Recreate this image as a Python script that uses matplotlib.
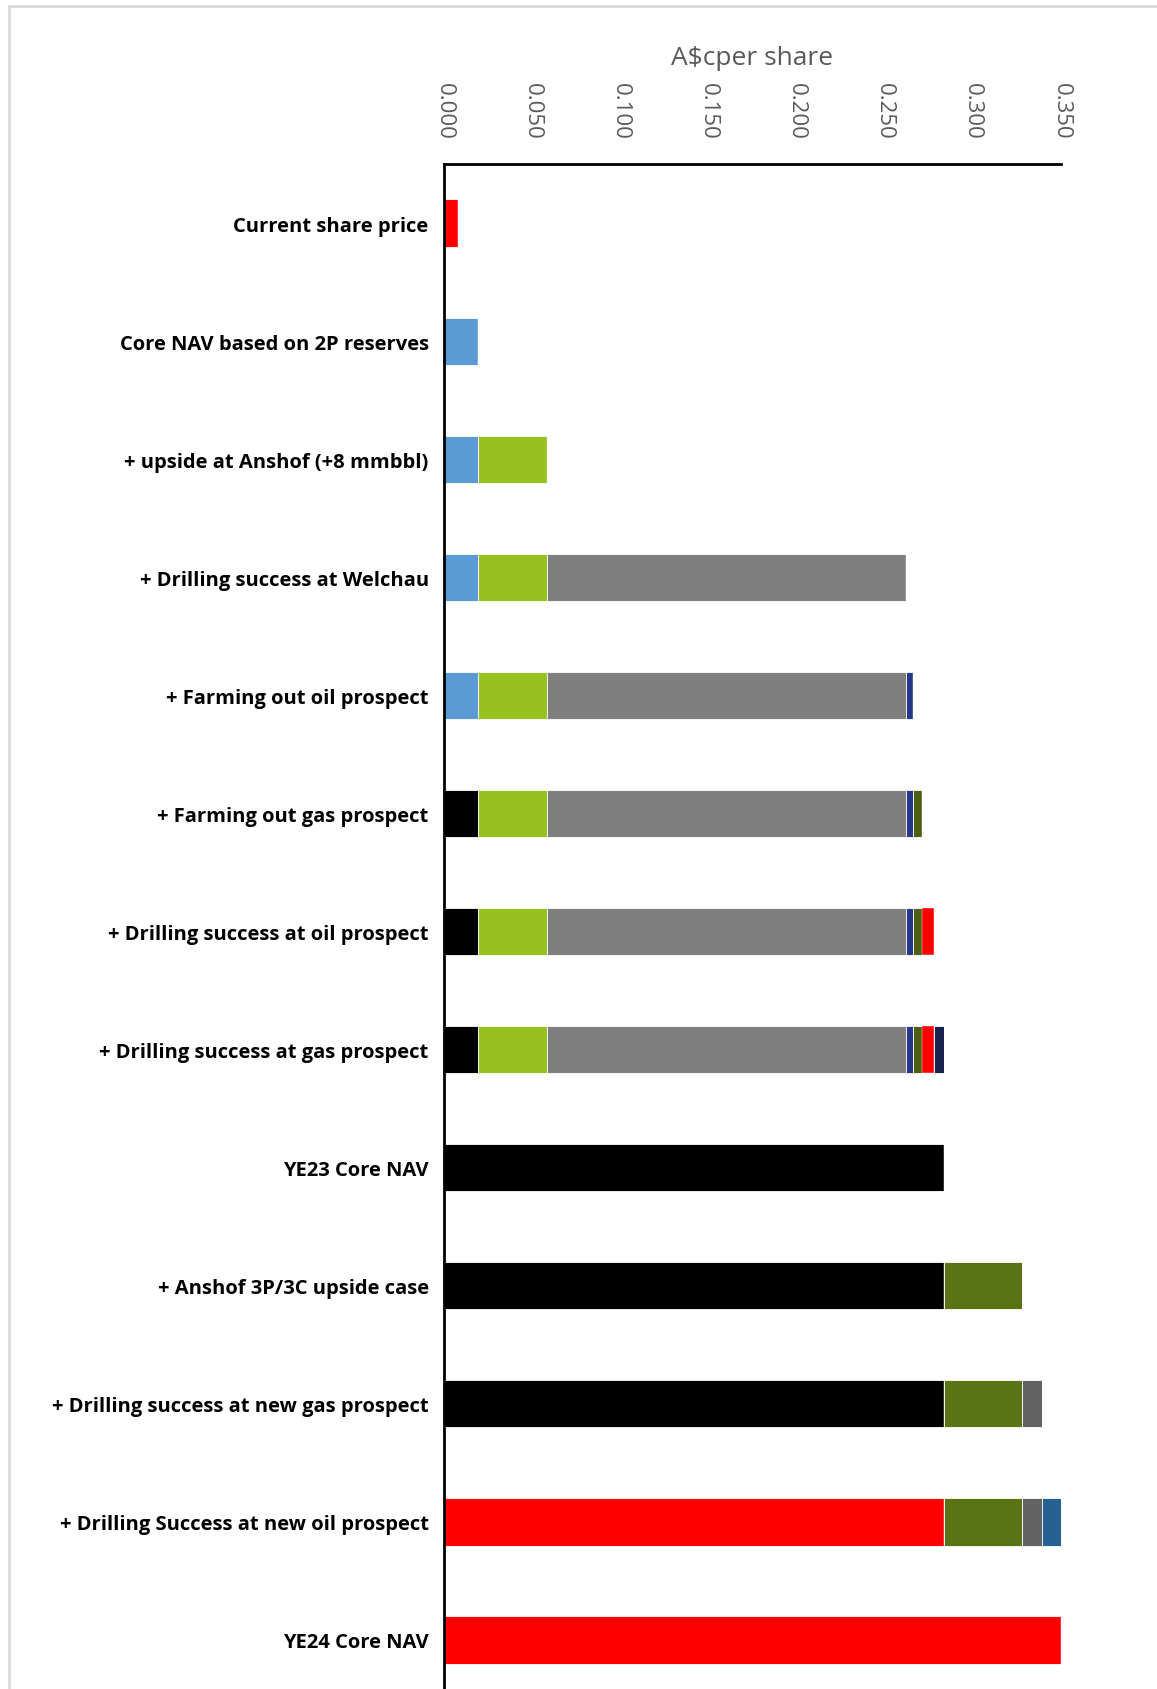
import matplotlib
matplotlib.use("Agg")
import matplotlib.pyplot as plt
from matplotlib.patches import Rectangle
import numpy as np

categories = [
    "Current share price",
    "Core NAV based on 2P reserves",
    "+ upside at Anshof (+8 mmbbl)",
    "+ Drilling success at Welchau",
    "+ Farming out oil prospect",
    "+ Farming out gas prospect",
    "+ Drilling success at oil prospect",
    "+ Drilling success at gas prospect",
    "YE23 Core NAV",
    "+ Anshof 3P/3C upside case",
    "+ Drilling success at new gas prospect",
    "+ Drilling Success at new oil prospect",
    "YE24 Core NAV",
]

# A$c per share, stacked segments (left to right)
base = [0.0078, 0.0193, 0.0193, 0.0193, 0.0193, 0.0193, 0.0193, 0.0193,
        0.2838, 0.2838, 0.2838, 0.2838, 0.3498]
base_colors = ["#FF0000", "#5B9BD5", "#5B9BD5", "#5B9BD5", "#5B9BD5",
               "#000000", "#000000", "#000000", "#000000", "#000000",
               "#000000", "#FF0000", "#FF0000"]
anshof = [0, 0, 0.0393, 0.0393, 0.0393, 0.0393, 0.0393, 0.0393, 0, 0, 0, 0, 0]
welchau = [0, 0, 0, 0.2032, 0.2032, 0.2032, 0.2032, 0.2032, 0, 0, 0, 0, 0]
farm_oil = [0, 0, 0, 0, 0.0044, 0.0044, 0.0044, 0.0044, 0, 0, 0, 0, 0]
farm_gas = [0, 0, 0, 0, 0, 0.0051, 0.0051, 0.0051, 0, 0, 0, 0, 0]
drill_oil = [0, 0, 0, 0, 0, 0, 0.0066, 0.0066, 0, 0, 0, 0, 0]
drill_gas = [0, 0, 0, 0, 0, 0, 0, 0.0059, 0, 0, 0, 0, 0]
anshof_3p = [0, 0, 0, 0, 0, 0, 0, 0, 0, 0.0442, 0.0442, 0.0442, 0]
new_gas = [0, 0, 0, 0, 0, 0, 0, 0, 0, 0, 0.011, 0.011, 0]
new_oil = [0, 0, 0, 0, 0, 0, 0, 0, 0, 0, 0, 0.0108, 0]

segments = [
    (anshof, "#96C11F"),
    (welchau, "#7F7F7F"),
    (farm_oil, "#24378A"),
    (farm_gas, "#4E5F14"),
    (drill_oil, "#FF0000"),
    (drill_gas, "#1A2350"),
    (anshof_3p, "#5A7315"),
    (new_gas, "#636363"),
    (new_oil, "#266192"),
]

W, H = 1157, 1690
fig = plt.figure(figsize=(W / 100, H / 100), dpi=100)

# light frame around the figure
fig.patches.append(Rectangle((9 / W, -0.01), 1.0, (H - 7) / H + 0.01,
                             transform=fig.transFigure, fill=False,
                             edgecolor="#D9D9D9", lw=2))

ax = fig.add_axes([444 / W, 0, 617 / W, 1525 / H])
y = np.arange(len(categories))

ax.barh(y, base, height=0.4, color=base_colors, edgecolor="#FFFFFF",
        linewidth=0.6)
left = np.array(base, dtype=float)
for vals, col in segments:
    vals = np.array(vals, dtype=float)
    ax.barh(y, vals, height=0.4, left=left, color=col, edgecolor="#FFFFFF",
            linewidth=0.6 if col != "#FF0000" else 0.3)
    left = left + vals

ax.set_xlim(0, 0.35)
ax.set_ylim(12.415, -0.5)

ax.set_yticks(y)
ax.set_yticklabels(categories, fontsize=14.5, fontweight="bold",
                   family=["Open Sans", "DejaVu Sans"])
ax.tick_params(axis="y", length=0, pad=11)

ax.xaxis.tick_top()
ax.set_xticks(np.arange(0, 0.351, 0.05))
ax.set_xticklabels(["%.3f" % v for v in np.arange(0, 0.351, 0.05)],
                   rotation=-90, fontsize=16, color="#595959", family="Open Sans")
ax.tick_params(axis="x", length=0, pad=18)
ax.xaxis.set_label_position("top")
ax.set_xlabel("A$cper share", fontsize=19, color="#595959", family="Open Sans",
              labelpad=13)

for s in ["right", "bottom"]:
    ax.spines[s].set_visible(False)
ax.spines["top"].set_linewidth(2)
ax.spines["left"].set_linewidth(2)

fig.savefig("out.png", dpi=100)
